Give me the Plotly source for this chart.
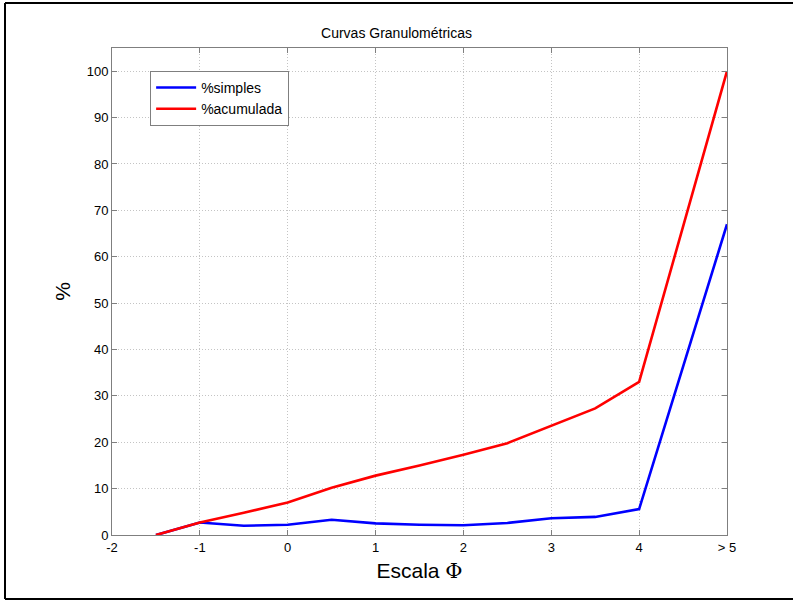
import plotly.graph_objects as go

phi = [-1.5, -1, -0.5, 0, 0.5, 1, 1.5, 2, 2.5, 3, 3.5, 4, 5]
pct_simples = [0, 2.7, 2.0, 2.2, 3.3, 2.5, 2.2, 2.1, 2.6, 3.6, 3.9, 5.6, 67.0]
pct_acumulada = [0, 2.7, 4.8, 7.0, 10.2, 12.8, 15.0, 17.3, 19.8, 23.5, 27.3, 33.0, 100.0]
x_tickvals = [-2, -1, 0, 1, 2, 3, 4, 5]
x_ticktext = ["-2", "-1", "0", "1", "2", "3", "4", "> 5"]
y_tickvals = list(range(0, 101, 10))

FONT = "Liberation Sans, Arial, Helvetica, sans-serif"

fig = go.Figure()
fig.add_trace(go.Scatter(x=phi, y=pct_simples, mode="lines", name="%simples",
                         line=dict(color="#0000FF", width=2.6)))
fig.add_trace(go.Scatter(x=phi, y=pct_acumulada, mode="lines", name="%acumulada",
                         line=dict(color="#FF0000", width=2.6)))

axis_common = dict(
    showline=True, linecolor="#7f7f7f", linewidth=1, mirror="ticks",
    ticks="inside", ticklen=5, tickcolor="#7f7f7f",
    showgrid=True, gridcolor="#c4c4c4", griddash="1px,2px", gridwidth=1,
    zeroline=False, tickfont=dict(family=FONT, size=13, color="black"),
)

# figure frame (left, top, bottom edges) in paper coordinates
fx0, fx1 = (5 - 112) / 615, (793 - 112) / 615
fy0, fy1 = (535 - 599) / 487, (535 - 3) / 487
frame = dict(type="line", xref="paper", yref="paper",
             line=dict(color="black", width=2), layer="above")

fig.update_layout(
    width=793, height=601,
    margin=dict(l=112, r=66, t=48, b=66),
    paper_bgcolor="white", plot_bgcolor="white",
    showlegend=True,
    title=dict(text="Curvas Granulométricas", x=0.5, xanchor="center",
               y=1 - 33 / 601, yanchor="middle",
               font=dict(family=FONT, size=14, color="black")),
    xaxis=dict(range=[-2, 5], tickvals=x_tickvals, ticktext=x_ticktext,
               title=dict(text="Escala <span style='font-family:DejaVu Serif'>Φ</span>",
                          font=dict(family=FONT, size=21, color="black"), standoff=9),
               **axis_common),
    yaxis=dict(range=[0, 105], tickvals=y_tickvals,
               title=dict(text="%", font=dict(family=FONT, size=21, color="black"), standoff=10),
               **axis_common),
    legend=dict(x=0.062, y=0.953, xanchor="left", yanchor="top",
                bgcolor="white", bordercolor="#7f7f7f", borderwidth=1,
                font=dict(family=FONT, size=14, color="black"),
                tracegroupgap=0, itemwidth=40),
    shapes=[
        dict(frame, x0=fx0, x1=fx0, y0=fy0, y1=fy1),
        dict(frame, x0=fx0, x1=fx1, y0=fy1, y1=fy1),
        dict(frame, x0=fx0, x1=fx1, y0=fy0, y1=fy0),
    ],
)

fig.write_html(
    "out.html", config={"displayModeBar": False},
    post_script=("document.body.style.margin='0';"
                 "document.body.style.overflow='hidden';"
                 "document.documentElement.style.overflow='hidden';"),
)
